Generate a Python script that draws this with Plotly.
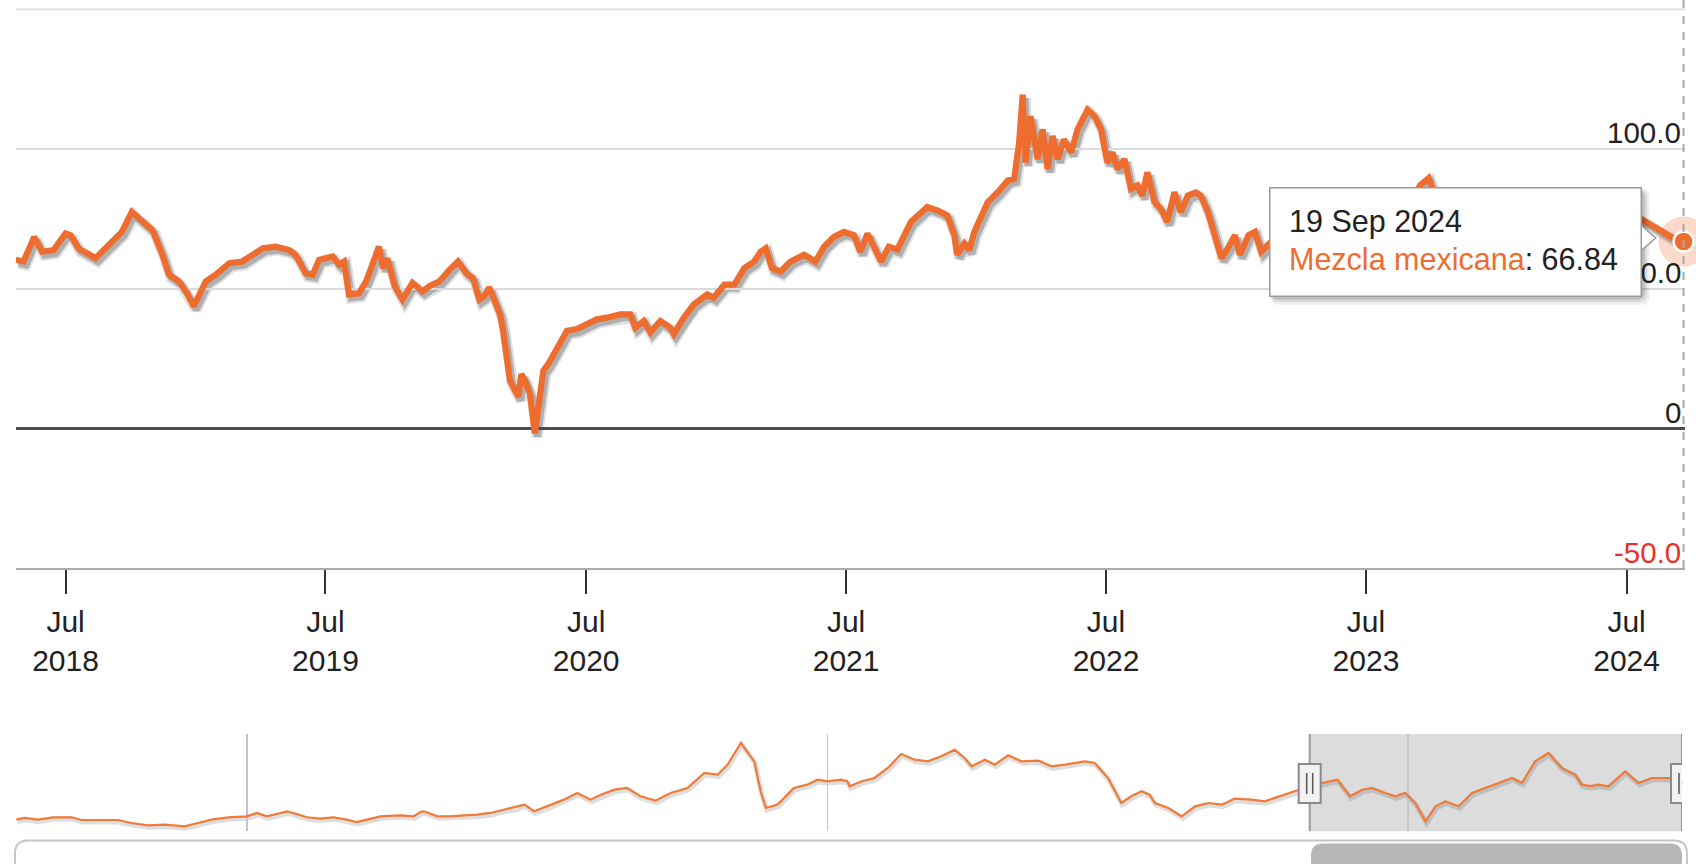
import plotly.graph_objects as go
from datetime import date

# ---------------- data ----------------
series_name = "Mezcla mexicana"

dates = [
    "2018-04-22", "2018-05-03", "2018-05-18", "2018-05-29", "2018-06-14", "2018-07-01", "2018-07-08",
    "2018-07-19", "2018-08-12", "2018-08-26", "2018-09-09", "2018-09-18", "2018-10-02", "2018-10-17",
    "2018-10-31", "2018-11-14", "2018-11-23", "2018-12-07", "2018-12-17", "2018-12-28", "2019-01-05",
    "2019-01-14", "2019-01-28", "2019-02-16", "2019-03-06", "2019-03-21", "2019-04-04", "2019-04-22",
    "2019-05-11", "2019-05-20", "2019-06-03", "2019-06-13", "2019-06-22", "2019-07-11", "2019-07-20",
    "2019-07-27", "2019-08-03", "2019-08-17", "2019-08-27", "2019-09-03", "2019-09-14", "2019-09-20",
    "2019-09-26", "2019-10-06", "2019-10-17", "2019-10-31", "2019-11-14", "2019-11-24", "2019-12-08",
    "2019-12-22", "2020-01-03", "2020-01-15", "2020-01-24", "2020-02-02", "2020-02-09", "2020-02-16",
    "2020-02-23", "2020-03-02", "2020-03-06", "2020-03-11", "2020-03-16", "2020-03-23", "2020-03-28",
    "2020-04-01", "2020-04-06", "2020-04-13", "2020-04-20", "2020-04-25", "2020-05-02", "2020-05-09",
    "2020-05-16", "2020-05-25", "2020-06-04", "2020-06-18", "2020-07-02", "2020-07-16", "2020-07-30",
    "2020-08-18", "2020-09-01", "2020-09-08", "2020-09-20", "2020-09-29", "2020-10-13", "2020-10-27",
    "2020-11-01", "2020-11-15", "2020-11-29", "2020-12-18", "2020-12-27", "2021-01-11", "2021-01-25",
    "2021-02-08", "2021-02-22", "2021-03-03", "2021-03-10", "2021-03-19", "2021-03-31", "2021-04-14",
    "2021-05-03", "2021-05-19", "2021-05-31", "2021-06-14", "2021-06-28", "2021-07-12", "2021-07-21",
    "2021-07-31", "2021-08-09", "2021-08-19", "2021-08-30", "2021-09-11", "2021-09-30", "2021-10-23",
    "2021-11-06", "2021-11-20", "2021-11-30", "2021-12-04", "2021-12-14", "2021-12-21", "2021-12-28",
    "2022-01-16", "2022-01-30", "2022-02-13", "2022-02-22", "2022-03-01", "2022-03-06", "2022-03-10",
    "2022-03-17", "2022-03-27", "2022-04-03", "2022-04-10", "2022-04-17", "2022-04-24", "2022-05-03",
    "2022-05-13", "2022-05-22", "2022-06-05", "2022-06-15", "2022-06-24", "2022-07-03", "2022-07-10",
    "2022-07-17", "2022-07-27", "2022-08-05", "2022-08-14", "2022-08-21", "2022-08-28", "2022-09-07",
    "2022-09-16", "2022-09-25", "2022-10-05", "2022-10-14", "2022-10-24", "2022-11-04", "2022-11-11",
    "2022-11-21", "2022-11-30", "2022-12-10", "2022-12-19", "2022-12-29", "2023-01-05", "2023-01-17",
    "2023-01-26", "2023-02-04", "2023-02-18", "2023-03-01", "2023-03-17", "2023-04-03", "2023-04-24",
    "2023-05-04", "2023-05-26", "2023-06-12", "2023-06-29", "2023-07-13", "2023-07-31", "2023-08-14",
    "2023-08-30", "2023-09-08", "2023-09-15", "2023-09-27", "2023-10-05", "2023-10-18", "2023-11-01",
    "2023-11-16", "2023-12-12", "2023-12-27", "2024-01-12", "2024-01-26", "2024-02-12", "2024-02-28",
    "2024-03-15", "2024-04-05", "2024-04-19", "2024-05-06", "2024-06-03", "2024-06-20", "2024-07-05",
    "2024-07-28", "2024-08-15", "2024-09-04", "2024-09-19",
]
values = [
    60.3, 59.7, 68.5, 63.2, 63.8, 69.7, 69.1,
    64.4, 60.9, 64.3, 67.9, 70.3, 77.4, 73.9,
    70.9, 62.1, 55.0, 52.6, 49.0, 43.7, 47.9,
    52.6, 55.0, 59.1, 59.7, 62.1, 64.4, 65.0,
    63.8, 62.1, 55.5, 55.0, 60.3, 61.5, 58.6,
    59.7, 47.9, 48.3, 52.6, 57.3, 65.0, 57.3,
    60.8, 50.9, 46.1, 52.0, 49.0, 50.9, 52.6,
    56.7, 59.7, 55.5, 53.8, 46.1, 47.3, 50.4,
    46.1, 40.8, 35.5, 26.1, 17.1, 13.6, 11.2,
    19.4, 17.1, 12.4, -1.8, 7.7, 20.7, 23.1,
    26.6, 30.1, 34.9, 35.5, 37.2, 39.0, 39.6,
    40.8, 40.8, 36.0, 38.4, 34.3, 38.4, 36.0,
    33.7, 39.6, 44.3, 47.9, 46.7, 51.4, 51.4,
    57.3, 59.7, 63.2, 64.4, 57.3, 56.1, 59.7,
    62.1, 59.7, 65.0, 68.5, 70.3, 69.1, 63.2,
    69.7, 65.0, 59.7, 65.0, 64.0, 73.9, 79.2,
    78.0, 76.2, 69.1, 62.1, 66.1, 63.8, 70.3,
    81.0, 84.5, 88.7, 89.3, 102.2, 119.4, 95.1,
    111.7, 96.3, 107.0, 92.8, 104.6, 96.3, 103.4,
    98.7, 107.0, 114.0, 111.7, 107.0, 95.1, 98.7,
    92.8, 96.3, 85.7, 86.9, 83.3, 91.6, 81.0,
    78.6, 73.9, 84.5, 77.4, 83.3, 84.4, 83.3,
    77.4, 69.1, 60.9, 64.4, 69.1, 62.1, 69.1,
    70.3, 63.2, 66.8, 68.0, 61.5, 72.0, 70.0,
    62.0, 64.5, 62.0, 63.5, 69.0, 75.0, 77.5,
    79.5, 84.0, 87.0, 89.5, 84.0, 83.5, 76.0,
    68.0, 64.0, 68.5, 67.0, 73.0, 72.0, 73.5,
    76.0, 80.0, 77.5, 72.5, 68.5, 73.5, 77.5,
    73.9, 71.0, 68.1, 66.84,
]

# navigator (full history, as drawn in the small overview chart)
nav_dates = [
    "1996-01-12", "1996-03-03", "1996-05-27", "1996-08-30", "1996-12-24", "1997-02-24", "1997-06-10",
    "1997-10-12", "1998-01-05", "1998-04-20", "1998-08-04", "1998-12-06", "1999-02-28", "1999-05-23",
    "1999-09-06", "2000-01-01", "2000-03-04", "2000-05-05", "2000-07-06", "2000-09-09", "2000-11-10",
    "2001-01-12", "2001-04-06", "2001-06-28", "2001-09-20", "2001-11-21", "2002-01-27", "2002-04-20",
    "2002-08-22", "2002-11-14", "2002-12-28", "2003-01-19", "2003-04-13", "2003-07-06", "2003-09-28",
    "2003-12-20", "2004-03-13", "2004-06-06", "2004-08-07", "2004-10-12", "2004-12-13", "2005-03-08",
    "2005-06-18", "2005-09-09", "2005-12-02", "2006-02-06", "2006-05-01", "2006-07-20", "2006-10-12",
    "2007-01-15", "2007-04-20", "2007-08-04", "2007-11-18", "2008-02-10", "2008-04-12", "2008-07-05",
    "2008-09-27", "2008-11-06", "2008-12-09", "2009-02-21", "2009-06-03", "2009-08-26", "2009-10-31",
    "2010-01-01", "2010-03-26", "2010-05-05", "2010-05-20", "2010-08-04", "2010-10-23", "2011-01-15",
    "2011-04-09", "2011-07-02", "2011-09-24", "2011-12-17", "2012-03-10", "2012-05-12", "2012-06-25",
    "2012-09-17", "2012-11-18", "2013-02-10", "2013-05-05", "2013-08-19", "2013-11-10", "2014-02-02",
    "2014-06-07", "2014-08-08", "2014-10-31", "2015-01-23", "2015-03-26", "2015-05-31", "2015-07-20",
    "2015-08-22", "2015-11-14", "2016-02-07", "2016-05-01", "2016-07-24", "2016-10-16", "2017-01-05",
    "2017-04-20", "2017-07-13", "2017-08-26", "2017-11-21", "2018-02-14", "2018-04-20", "2018-07-09",
    "2018-10-12", "2019-01-01", "2019-03-18", "2019-05-19", "2019-08-11", "2019-10-12", "2019-12-13",
    "2020-02-14", "2020-04-20", "2020-06-21", "2020-08-22", "2020-11-14", "2021-02-06", "2021-05-01",
    "2021-07-24", "2021-10-16", "2021-12-17", "2022-03-10", "2022-06-02", "2022-08-25", "2022-11-17",
    "2022-12-28", "2023-02-20", "2023-04-13", "2023-06-14", "2023-09-27", "2023-12-20", "2024-03-14",
    "2024-06-28", "2024-09-19",
]
nav_values = [
    18.5, 21.0, 18.5, 22.0, 22.0, 18.0, 18.0,
    18.0, 13.6, 10.1, 11.1, 8.7, 13.6, 18.5,
    22.0, 23.4, 28.4, 23.4, 26.9, 30.8, 26.9,
    22.0, 20.0, 22.0, 18.5, 15.0, 18.5, 23.4,
    24.9, 23.4, 29.8, 30.8, 23.4, 23.4, 24.9,
    25.9, 28.4, 33.3, 35.8, 40.7, 30.8, 38.2,
    48.1, 57.9, 48.1, 55.4, 62.8, 65.3, 53.0,
    46.6, 57.9, 65.3, 87.5, 85.0, 99.8, 131.8,
    104.7, 60.4, 35.8, 40.7, 65.3, 70.2, 77.6,
    75.2, 77.6, 75.2, 67.8, 75.2, 80.1, 94.9,
    115.6, 107.1, 104.7, 112.1, 121.9, 109.6, 97.3,
    107.1, 99.8, 113.6, 104.7, 105.7, 97.3, 99.8,
    104.7, 102.2, 80.1, 43.1, 53.0, 60.4, 55.4,
    43.1, 35.8, 23.4, 38.2, 43.1, 40.7, 49.5,
    48.1, 45.6, 49.0, 55.4, 62.8, 66.0, 72.7,
    77.6, 53.0, 62.8, 65.3, 57.9, 53.0, 57.9,
    43.1, 16.0, 38.2, 45.6, 38.2, 57.9, 65.3,
    72.7, 80.1, 72.7, 104.7, 117.0, 94.8, 85.0,
    70.2, 68.0, 70.2, 67.8, 89.9, 72.7, 80.1,
    80.1, 75.0,
]

tick_dates = ["2018-07-01", "2019-07-01", "2020-07-01", "2021-07-01",
              "2022-07-01", "2023-07-01", "2024-07-01"]
tick_labels = ["Jul<br>2018", "Jul<br>2019", "Jul<br>2020", "Jul<br>2021",
               "Jul<br>2022", "Jul<br>2023", "Jul<br>2024"]
grid_values = [-50, 0, 50, 100, 150]
ylabel_values = [100, 50, 0, -50]
ylabel_texts = ["100.0", "50.0", "0", "-50.0"]
nav_grid_dates = ["2000-01-01", "2010-01-01", "2020-01-01"]

# ---------------- layout constants ----------------
W, H = 1696, 864
ORANGE = "#ef6c2f"
FONT = "Liberation Sans, Arial, Helvetica, sans-serif"

MAIN_L, MAIN_R, MAIN_T, MAIN_B = 15.7, 1685.0, 8.6, 568.0
NAV_L, NAV_R, NAV_T, NAV_B = 16.0, 1682.0, 734.0, 831.3
view_start, view_end = "2018-04-22", "2024-09-21"
nav_start = "1996-01-10"
nav_end = dates[-1]
Y_RANGE = [-50, 150.2]
NAV_Y_RANGE = [1.3, 145.1]


def dx(a, b):
    return [a / W, b / W]


def dy(top, bottom):
    return [1 - bottom / H, 1 - top / H]


def px(x):
    return x / W


def py(y):
    return 1 - y / H


def P(x, y):
    return f"{x / W:.6f},{1 - y / H:.6f}"


def rrect(x0, y0, x1, y1, r):
    return (f"M {P(x0 + r, y0)} L {P(x1 - r, y0)} Q {P(x1, y0)} {P(x1, y0 + r)} "
            f"L {P(x1, y1 - r)} Q {P(x1, y1)} {P(x1 - r, y1)} L {P(x0 + r, y1)} "
            f"Q {P(x0, y1)} {P(x0, y1 - r)} L {P(x0, y0 + r)} Q {P(x0, y0)} {P(x0 + r, y0)} Z")


fig = go.Figure()

# shadow of main line (drawn in a shifted, invisible subplot)
fig.add_trace(go.Scatter(x=dates, y=values, mode="lines", xaxis="x", yaxis="y",
                         line=dict(color="rgba(0,0,0,0.12)", width=11), hoverinfo="skip"))
fig.add_trace(go.Scatter(x=dates, y=values, mode="lines", xaxis="x", yaxis="y",
                         line=dict(color="rgba(0,0,0,0.22)", width=7), hoverinfo="skip"))
# main line
fig.add_trace(go.Scatter(x=dates, y=values, mode="lines", xaxis="x2", yaxis="y2",
                         name=series_name, line=dict(color=ORANGE, width=6.2)))
# hovered point halo + marker
fig.add_trace(go.Scatter(x=[dates[-1]], y=[values[-1]], mode="markers", xaxis="x2", yaxis="y2",
                         marker=dict(size=50, color="rgba(239,108,47,0.25)", line=dict(width=0)),
                         cliponaxis=False, hoverinfo="skip"))
fig.add_trace(go.Scatter(x=[dates[-1]], y=[values[-1]], mode="markers", xaxis="x2", yaxis="y2",
                         marker=dict(size=20, color=ORANGE, line=dict(color="white", width=2.5)),
                         cliponaxis=False, hoverinfo="skip"))
# navigator shadow and line
fig.add_trace(go.Scatter(x=nav_dates, y=nav_values, mode="lines", xaxis="x3", yaxis="y3",
                         line=dict(color="rgba(0,0,0,0.13)", width=5), hoverinfo="skip"))
fig.add_trace(go.Scatter(x=nav_dates, y=nav_values, mode="lines", xaxis="x4", yaxis="y4",
                         line=dict(color="#f07a36", width=2.2), hoverinfo="skip"))

hidden = dict(visible=False, fixedrange=True)

layout = dict(
    width=W, height=H,
    margin=dict(l=0, r=0, t=0, b=0),
    paper_bgcolor="white", plot_bgcolor="rgba(0,0,0,0)",
    showlegend=False, hovermode=False,
    font=dict(family=FONT, color="#222"),
    xaxis=dict(type="date", range=[view_start, view_end], domain=dx(MAIN_L + 2.5, MAIN_R + 2.5),
               anchor="y", **hidden),
    yaxis=dict(range=Y_RANGE, domain=dy(MAIN_T + 3.5, MAIN_B + 3.5), anchor="x", **hidden),
    xaxis2=dict(type="date", range=[view_start, view_end], domain=dx(MAIN_L, MAIN_R), anchor="y2",
                tickmode="array", tickvals=tick_dates, ticktext=tick_labels,
                ticks="outside", ticklen=24, tickwidth=2, tickcolor="#333",
                showline=True, linecolor="#ababab", linewidth=2,
                showgrid=False, zeroline=False, fixedrange=True,
                tickfont=dict(size=30, color="#222", family=FONT), ticklabelstandoff=2),
    yaxis2=dict(range=Y_RANGE, domain=dy(MAIN_T, MAIN_B), anchor="x2",
                tickmode="array", tickvals=grid_values, showticklabels=False, ticks="",
                showgrid=True, gridcolor="#dadada", gridwidth=2,
                zeroline=True, zerolinecolor="#4d4d4d", zerolinewidth=2.5,
                showline=False, fixedrange=True),
    xaxis3=dict(type="date", range=[nav_start, nav_end], domain=dx(NAV_L + 1, NAV_R + 1),
                anchor="y3", **hidden),
    yaxis3=dict(range=NAV_Y_RANGE, domain=dy(NAV_T + 2, NAV_B + 2), anchor="x3", **hidden),
    xaxis4=dict(type="date", range=[nav_start, nav_end], domain=dx(NAV_L, NAV_R), anchor="y4",
                tickmode="array", tickvals=nav_grid_dates, showticklabels=False, ticks="",
                showgrid=True, gridcolor="#c4c4c4", gridwidth=1.5,
                zeroline=False, showline=False, fixedrange=True),
    yaxis4=dict(range=NAV_Y_RANGE, domain=dy(NAV_T, NAV_B), anchor="x4",
                showgrid=False, showticklabels=False, zeroline=False, ticks="",
                showline=False, fixedrange=True),
)
fig.update_layout(**layout)

shapes = []
# top grid line (value 150) at the upper plot edge
shapes.append(dict(type="line", xref="paper", yref="y2", x0=px(MAIN_L), x1=px(MAIN_R),
                   y0=grid_values[-1], y1=grid_values[-1], line=dict(color="#dadada", width=2),
                   layer="below"))
# navigator selected-range mask (under grid)
shapes.append(dict(type="rect", xref="x4", yref="paper", x0=view_start, x1=nav_end,
                   y0=py(NAV_B), y1=py(NAV_T), fillcolor="#dcdcdc", line=dict(width=0), layer="below"))
# mask outline at both edges
for xv in (view_start, nav_end):
    shapes.append(dict(type="line", xref="x4", yref="paper", x0=xv, x1=xv,
                       y0=py(NAV_B), y1=py(NAV_T), line=dict(color="#9a9a9a", width=2), layer="above"))
# handles
for xv in (view_start, nav_end):
    shapes.append(dict(type="rect", xref="x4", xsizemode="pixel", xanchor=xv, x0=-11, x1=11,
                       yref="paper", y0=py(803), y1=py(764),
                       fillcolor="#f2f2f2", line=dict(color="#8a8a8a", width=2), layer="above"))
    for off in (-3, 3):
        shapes.append(dict(type="line", xref="x4", xsizemode="pixel", xanchor=xv, x0=off, x1=off,
                           yref="paper", y0=py(794), y1=py(773),
                           line=dict(color="#555", width=1.5), layer="above"))
# scrollbar track + thumb
shapes.append(dict(type="path", xref="paper", yref="paper", path=rrect(15, 840.5, 1687, 876, 13),
                   fillcolor="white", line=dict(color="#c6c6c6", width=2), layer="above"))
shapes.append(dict(type="path", xref="paper", yref="paper", path=rrect(1311, 843.5, 1682, 872, 12),
                   fillcolor="#b6b6b6", line=dict(width=0), layer="above"))
# dashed crosshair at the hovered point
shapes.append(dict(type="line", xref="x2", yref="paper", x0=dates[-1], x1=dates[-1],
                   y0=py(MAIN_B), y1=py(0), line=dict(color="#a9a9a9", width=2, dash="8px,8px"),
                   layer="above"))
# tooltip shadow
TX0, TY0, TX1, TY1 = 1268.3, 186.7, 1641.7, 296.7
for off, grow, alpha in ((5, 3, 0.06), (4, 1.5, 0.09), (3, 0, 0.13)):
    shapes.append(dict(type="path", xref="paper", yref="paper",
                       path=rrect(TX0 + off - grow, TY0 + off - grow, TX1 + off + grow, TY1 + off + grow, 8),
                       fillcolor=f"rgba(0,0,0,{alpha})", line=dict(width=0), layer="above"))
# tooltip pointer
shapes.append(dict(type="path", xref="paper", yref="paper",
                   path=f"M {P(TX1 - 2, 224)} L {P(TX1 + 14, 238)} L {P(TX1 - 2, 252)} Z",
                   fillcolor="white", line=dict(color="#9a9a9a", width=1.5), layer="above"))
fig.update_layout(shapes=shapes)

annotations = []
for v, t in zip(ylabel_values, ylabel_texts):
    annotations.append(dict(xref="paper", yref="y2", x=px(1683), y=v, xanchor="right", yanchor="middle",
                            yshift=16, showarrow=False, text=t,
                            font=dict(size=29.5, family=FONT, color="#e8312a" if v < 0 else "#222")))
# tooltip box
annotations.append(dict(xref="paper", yref="paper", x=px((TX0 + TX1) / 2), y=py((TY0 + TY1) / 2),
                        xanchor="center", yanchor="middle", showarrow=False, text="\u00a0",
                        width=TX1 - TX0 - 3, height=TY1 - TY0 - 3, bgcolor="white",
                        bordercolor="#9a9a9a", borderwidth=1.5, borderpad=0))
last = date.fromisoformat(dates[-1])
date_txt = f"{last.day} {last.strftime('%b %Y')}"
annotations.append(dict(xref="paper", yref="paper", x=px(1287), y=py(222), xanchor="left",
                        yanchor="middle", showarrow=False, text=date_txt,
                        font=dict(size=30.5, family=FONT, color="#222")))
annotations.append(dict(xref="paper", yref="paper", x=px(1287), y=py(258.5), xanchor="left",
                        yanchor="middle", showarrow=False,
                        text=f"<span style='color:{ORANGE}'>{series_name}</span>: {values[-1]:.2f}",
                        font=dict(size=30.5, family=FONT, color="#222")))
fig.update_layout(annotations=annotations)

fig.write_html("out.html",
               config={"displayModeBar": False, "staticPlot": True},
               post_script="document.body.style.margin='0px';document.body.style.padding='0px';")
